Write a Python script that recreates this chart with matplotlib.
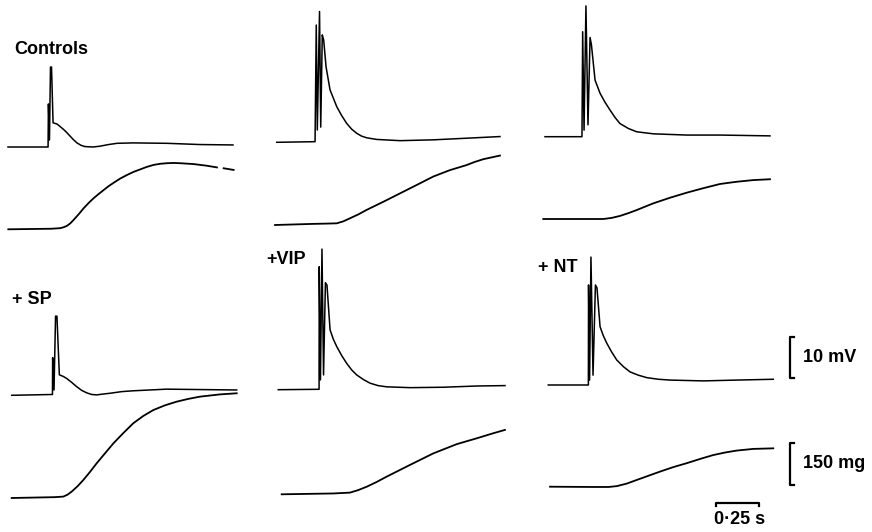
import matplotlib
matplotlib.use("Agg")
import matplotlib.pyplot as plt

W, H = 872, 532
PX_PER_S = 172.0     # 0.25 s bar = 43 px
PX_PER_MV = 4.1      # 10 mV bar = 41 px
PX_PER_MG = 0.28     # 150 mg bar = 42 px

# membrane potential traces: time (s), depolarisation (mV) from resting level
ctrl1_t = [0, 0.233, 0.235, 0.241, 0.247, 0.253, 0.262, 0.285, 0.300, 0.320, 0.340,
           0.360, 0.380, 0.401, 0.425, 0.448, 0.494, 0.535, 0.585, 0.634, 0.727,
           0.924, 1.116, 1.308]
ctrl1_mv = [0, 0, 10.5, 1.7, 19.5, 19.5, 5.9, 5.6, 5.1, 4.4, 3.6,
            2.7, 1.8, 1.0, 0.4, 0.1, 0.0, 0.2, 0.6, 0.9, 1.0,
            0.9, 0.6, 0.5]

ctrl2_t = [0, 0.223, 0.230, 0.236, 0.249, 0.256, 0.265, 0.273, 0.287, 0.310, 0.349,
           0.378, 0.407, 0.436, 0.465, 0.494, 0.523, 0.581, 0.717, 0.910, 1.105, 1.298]
ctrl2_mv = [0, 0.15, 28.6, 3.0, 31.9, 3.7, 26.2, 25.0, 18.4, 12.8, 8.7,
            6.5, 4.6, 3.2, 2.2, 1.5, 1.1, 0.7, 0.4, 0.6, 1.0, 1.4]

ctrl3_t = [0, 0.215, 0.219, 0.227, 0.238, 0.250, 0.262, 0.270, 0.291, 0.320, 0.349,
           0.378, 0.407, 0.436, 0.485, 0.533, 0.630, 0.824, 1.017, 1.308]
ctrl3_mv = [0, 0, 25.6, 1.6, 31.9, 2.9, 24.2, 22.4, 13.8, 10.6, 8.4,
            6.5, 4.7, 3.2, 2.0, 1.2, 0.7, 0.4, 0.4, 0.2]

sp_t = [0, 0.237, 0.238, 0.246, 0.255, 0.263, 0.277, 0.300, 0.320, 0.350, 0.378,
        0.407, 0.436, 0.465, 0.494, 0.530, 0.572, 0.640, 0.707, 0.901, 1.095, 1.308]
sp_mv = [0, 0.2, 9.2, 1.3, 19.3, 19.3, 5.0, 4.6, 4.1, 3.1, 2.1,
         1.2, 0.6, 0.2, 0.1, 0.3, 0.5, 0.9, 1.1, 1.5, 1.4, 1.3]

vip_t = [0, 0.237, 0.238, 0.245, 0.254, 0.263, 0.274, 0.283, 0.301, 0.320, 0.340,
         0.369, 0.398, 0.427, 0.456, 0.494, 0.533, 0.580, 0.630, 0.766, 0.959,
         1.153, 1.318]
vip_mv = [0, 0.1, 30.0, 2.4, 34.3, 3.6, 26.1, 25.5, 14.6, 12.3, 10.5,
          8.3, 6.4, 4.8, 3.6, 2.5, 1.6, 1.0, 0.7, 0.5, 0.6,
          0.9, 1.0]

nt_t = [0, 0.233, 0.234, 0.240, 0.248, 0.260, 0.274, 0.283, 0.301, 0.320, 0.340,
        0.369, 0.398, 0.436, 0.475, 0.523, 0.572, 0.640, 0.708, 0.901, 1.095, 1.308]
nt_mv = [0, 0, 24.4, 1.2, 31.2, 2.4, 24.4, 23.7, 14.2, 12.0, 10.2,
         8.0, 6.1, 4.5, 3.2, 2.4, 1.8, 1.4, 1.2, 1.0, 1.2, 1.4]

# tension traces: time (s), force (mg) above baseline (None = gap in the record)
f_ctrl1_t = [0, 0.250, 0.301, 0.320, 0.340, 0.360, 0.379, 0.408, 0.438, 0.467,
             0.496, 0.525, 0.554, 0.583, 0.612, 0.650, 0.690, 0.728, 0.767, 0.806,
             0.845, 0.883, 0.922, 0.961, 1.000, 1.077, 1.155, 1.213, 1.233, 1.252,
             1.310]
f_ctrl1_mg = [0, 2, 4, 7, 12, 21, 33, 53, 75, 94,
              111, 126, 140, 154, 166, 181, 194, 205, 214, 223,
              230, 234, 236, 237, 236, 233, 227, 221, None, 218,
              212]

f_ctrl2_t = [0, 0.223, 0.300, 0.359, 0.397, 0.436, 0.485, 0.533, 0.630, 0.727,
             0.824, 0.920, 1.017, 1.114, 1.160, 1.211, 1.308]
f_ctrl2_mg = [0, 4, 5, 6, 13, 24, 38, 54, 83, 113,
              143, 173, 196, 214, 225, 235, 248]

f_ctrl3_t = [0, 0.349, 0.398, 0.446, 0.495, 0.543, 0.640, 0.737, 0.834, 0.930,
             1.027, 1.075, 1.124, 1.172, 1.221, 1.318]
f_ctrl3_mg = [0, 0, 4, 11, 21, 32, 56, 76, 94, 110,
              125, 129, 133, 136, 139, 142]

f_sp_t = [0, 0.250, 0.300, 0.325, 0.349, 0.383, 0.416, 0.455, 0.494, 0.543,
          0.591, 0.649, 0.707, 0.765, 0.823, 0.891, 0.959, 1.027, 1.095, 1.211,
          1.308]
f_sp_mg = [0, 3, 5, 12, 23, 42, 64, 93, 124, 160,
           195, 232, 267, 293, 314, 331, 344, 354, 362, 370,
           374]

f_vip_t = [0, 0.300, 0.397, 0.445, 0.494, 0.552, 0.610, 0.678, 0.746, 0.881,
           1.017, 1.134, 1.230, 1.298]
f_vip_mg = [0, 3, 6, 15, 27, 44, 63, 84, 105, 146,
            179, 200, 218, 230]

f_nt_t = [0, 0.252, 0.340, 0.388, 0.446, 0.504, 0.572, 0.640, 0.717, 0.795,
          0.872, 0.949, 1.017, 1.085, 1.182, 1.298]
f_nt_mg = [0, -1, -1, 2, 11, 24, 39, 54, 70, 84,
           99, 113, 122, 129, 135, 137]

panel_labels = ["Controls", "+ SP", "+VIP", "+ NT"]
scale_mv = 10
scale_mg = 150
scale_s = 0.25


def trace_axes(fig, x0, y0, px_y):
    # transparent full-figure axes whose origin sits at pixel (x0, y0)
    ax = fig.add_axes([0, 0, 1, 1])
    ax.set_xlim(-x0 / PX_PER_S, (W - x0) / PX_PER_S)
    ax.set_ylim(-(H - y0) / px_y, y0 / px_y)
    ax.axis("off")
    ax.patch.set_alpha(0)
    return ax


def clean(vals):
    return [float("nan") if v is None else v for v in vals]


fig = plt.figure(figsize=(W / 100, H / 100), dpi=100)
fig.patch.set_facecolor("white")

lw = 1.1
voltage = [
    (ctrl1_t, ctrl1_mv, 8.0, 147.0),
    (ctrl2_t, ctrl2_mv, 276.7, 142.3),
    (ctrl3_t, ctrl3_mv, 545.0, 136.7),
    (sp_t, sp_mv, 11.7, 395.3),
    (vip_t, vip_mv, 278.3, 389.7),
    (nt_t, nt_mv, 548.3, 385.0),
]
force = [
    (f_ctrl1_t, f_ctrl1_mg, 8.3, 229.3),
    (f_ctrl2_t, f_ctrl2_mg, 275.0, 225.0),
    (f_ctrl3_t, f_ctrl3_mg, 543.3, 219.0),
    (f_sp_t, f_sp_mg, 11.7, 498.0),
    (f_vip_t, f_vip_mg, 281.7, 494.3),
    (f_nt_t, f_nt_mg, 550.0, 486.7),
]

v_axes = []
for t, v, x0, y0 in voltage:
    ax = trace_axes(fig, x0, y0, PX_PER_MV)
    ax.plot(t, v, color="black", lw=lw, solid_joinstyle="round")
    v_axes.append(ax)

f_axes = []
for t, f, x0, y0 in force:
    ax = trace_axes(fig, x0, y0, PX_PER_MG)
    ax.plot(t, clean(f), color="black", lw=lw + 0.2, solid_joinstyle="round")
    f_axes.append(ax)

# calibration bars, drawn in the units of the last panel
axv = v_axes[-1]
bx, tick = 1.405, 0.022
axv.plot([bx + tick, bx, bx, bx + tick], [11.7, 11.7, 11.7 - scale_mv, 11.7 - scale_mv],
         color="black", lw=1.6)
axf = f_axes[-1]
bx = 1.395
axf.plot([bx + tick, bx, bx, bx + tick], [156, 156, 156 - scale_mg, 156 - scale_mg],
         color="black", lw=1.6)
t0 = 0.965
axf.plot([t0, t0, t0 + scale_s, t0 + scale_s], [-68, -58, -58, -68],
         color="black", lw=1.6)

font = dict(family=["Liberation Sans", "DejaVu Sans"], fontweight="bold",
            fontsize=13, color="black")
fig.text(14 / W, 1 - 50 / H, panel_labels[0], ha="left", va="center", **font)
fig.text(12 / W, 1 - 300 / H, panel_labels[1], ha="left", va="center", **font)
fig.text(266 / W, 1 - 260 / H, panel_labels[2], ha="left", va="center", **font)
fig.text(538 / W, 1 - 267 / H, panel_labels[3], ha="left", va="center", **font)

fig.text(803 / W, 1 - 358 / H, f"{scale_mv} mV", ha="left", va="center", **font)
fig.text(803 / W, 1 - 463 / H, f"{scale_mg} mg", ha="left", va="center", **font)
fig.text(740 / W, 1 - 519 / H, "0\u00b725 s", ha="center", va="center", **font)

fig.savefig("out.png", dpi=100, facecolor="white")
